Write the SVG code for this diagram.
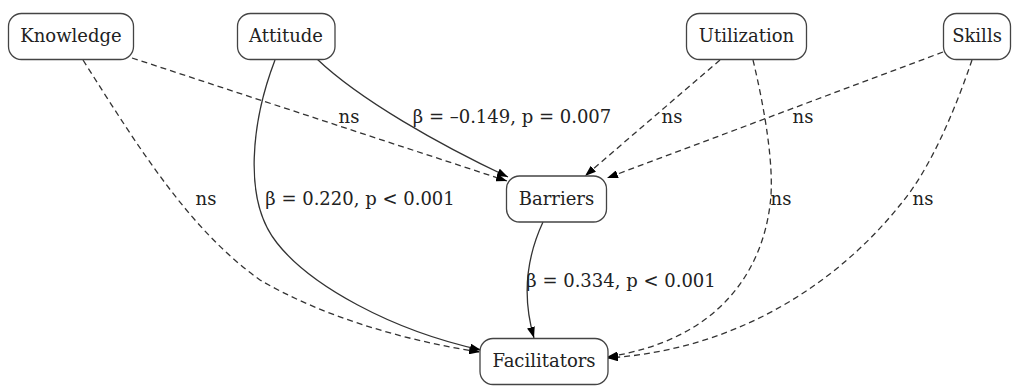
<svg xmlns="http://www.w3.org/2000/svg" width="1014" height="386" viewBox="0 0 1014 386">
<defs>
<style>
.node rect{fill:#fff;stroke:#444;stroke-width:1.3}
text{font-family:"DejaVu Serif","Liberation Serif",serif;font-size:18px;fill:#222;text-anchor:middle}
.e{fill:none;stroke:#333;stroke-width:1.3}
.d{stroke-dasharray:6,4}
</style>
<marker id="ah" viewBox="0 0 11 8" refX="11" refY="4" markerWidth="11" markerHeight="8" markerUnits="userSpaceOnUse" orient="auto">
<path d="M0,0 L11,4 L0,8 Z" fill="#000"/>
</marker>
</defs>
<rect width="1014" height="386" fill="#fff"/>
<g id="connectors">
<path class="e d" d="M132,58 L507,181" marker-end="url(#ah)"/>
<path class="e" d="M317,59 C360,100 440,145 508,177" marker-end="url(#ah)"/>
<path class="e d" d="M720,60 L585,176" marker-end="url(#ah)"/>
<path class="e d" d="M943,52 L607,178" marker-end="url(#ah)"/>
<path class="e d" d="M83,60 C140,150 190,230 260,280 C320,315 400,340 480,352" marker-end="url(#ah)"/>
<path class="e" d="M275,60 C252,120 242,200 277,243 C310,285 390,330 481,350" marker-end="url(#ah)"/>
<path class="e" d="M543,222 C530,250 520,290 534,338" marker-end="url(#ah)"/>
<path class="e d" d="M753,60 C765,110 775,170 770,205 C762,270 720,340 607,357" marker-end="url(#ah)"/>
<path class="e d" d="M972,60 C955,110 930,170 900,205 C840,280 740,350 607,358" marker-end="url(#ah)"/>
<text x="349" y="123">ns</text>
<text x="512" y="123">β = –0.149, p = 0.007</text>
<text x="672" y="123">ns</text>
<text x="803" y="123">ns</text>
<text x="206" y="205">ns</text>
<text x="360" y="205">β = 0.220, p &lt; 0.001</text>
<text x="781" y="205">ns</text>
<text x="923" y="205">ns</text>
<text x="621" y="287">β = 0.334, p &lt; 0.001</text>
</g>
<g id="knowledge" class="node"><rect x="8.5" y="13.5" width="125" height="46" rx="13"/><text x="71" y="42">Knowledge</text></g>
<g id="attitude" class="node"><rect x="237.5" y="13.5" width="97.5" height="46" rx="13"/><text x="286" y="42">Attitude</text></g>
<g id="utilization" class="node"><rect x="686.5" y="13.5" width="120" height="46" rx="13"/><text x="746.5" y="42">Utilization</text></g>
<g id="skills" class="node"><rect x="943.5" y="13.5" width="67" height="46" rx="13"/><text x="977" y="42">Skills</text></g>
<g id="barriers" class="node"><rect x="506.5" y="176" width="100" height="46" rx="13"/><text x="556.5" y="205">Barriers</text></g>
<g id="facilitators" class="node"><rect x="480" y="338.5" width="128" height="46" rx="13"/><text x="544" y="367">Facilitators</text></g>
</svg>
